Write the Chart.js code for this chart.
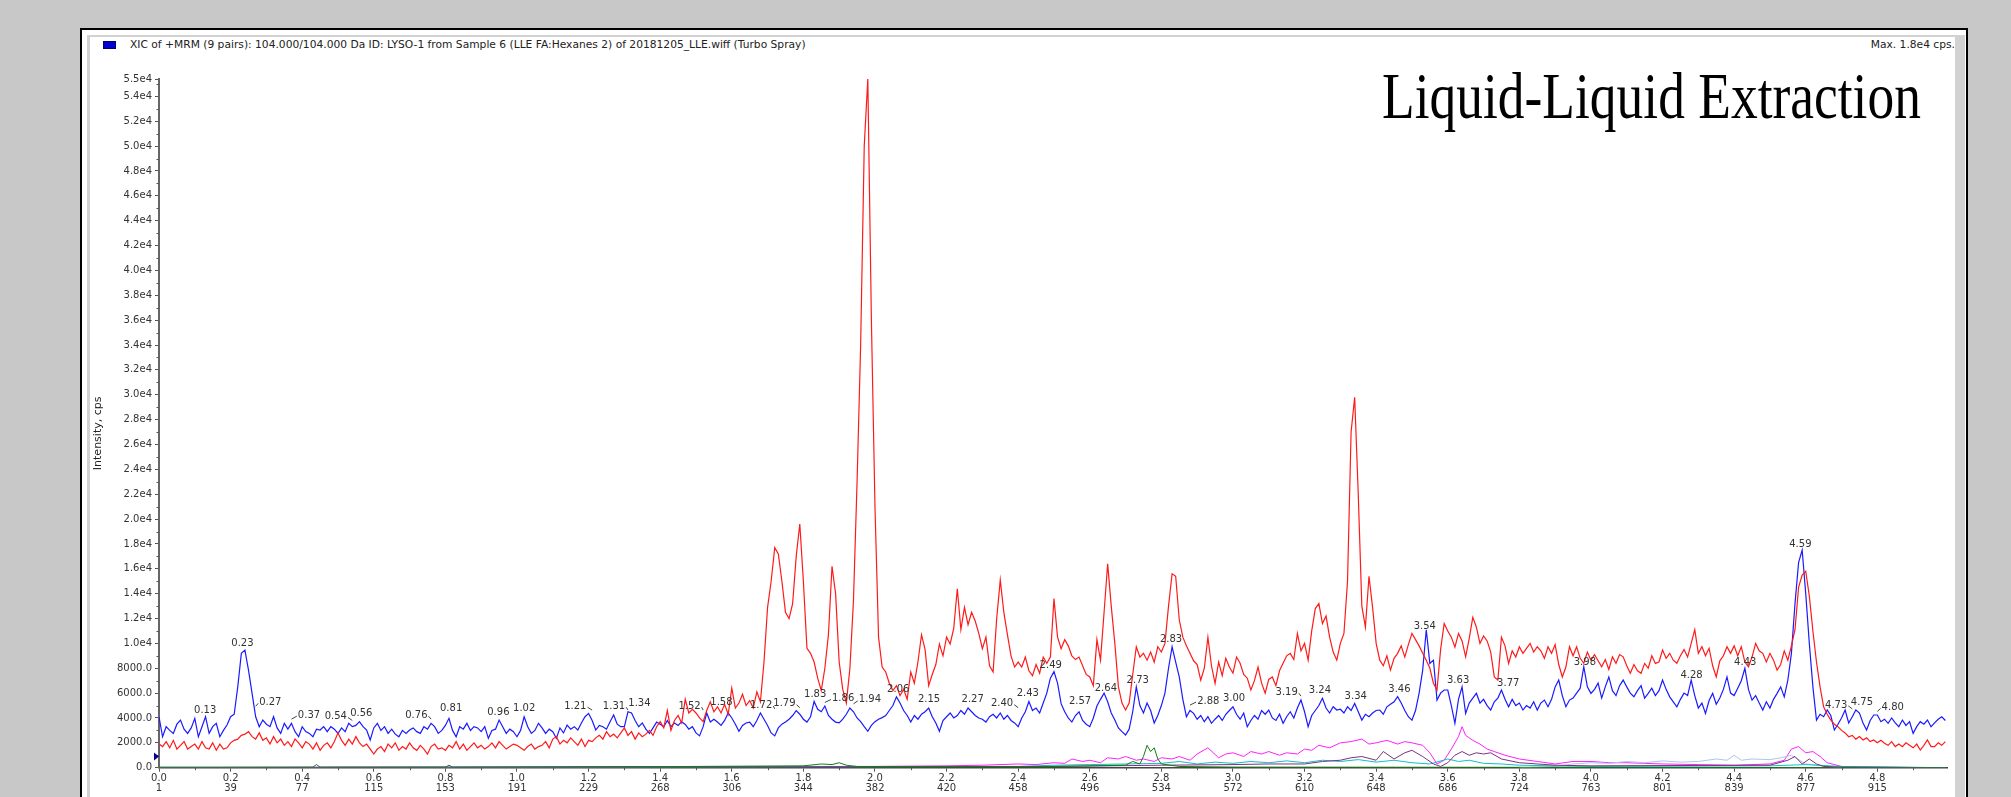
<!DOCTYPE html>
<html>
<head>
<meta charset="utf-8">
<title>XIC LYSO-1 LLE</title>
<script src="https://cdn.jsdelivr.net/npm/chart.js@4.4.1/dist/chart.umd.min.js"></script>
<style>
  html, body { margin: 0; padding: 0; }
  body { width: 2011px; height: 797px; overflow: hidden; position: relative; background: #c8c8c8; }
  #frame { position: absolute; left: 80px; top: 28px; width: 1884px; height: 780px; border: 2px solid #000; background: #fff; }
  #panel { position: absolute; left: 5px; top: 5px; right: 1px; bottom: 0; border-left: 3px solid #d2d2d2; border-top: 2px solid #d2d2d2; border-right: 10px solid #d2d2d2; }
  #chart { position: absolute; left: 90px; top: 37px; }
  .swatch { position: absolute; left: 103px; top: 41px; width: 11px; height: 6px; background: #0000d0; border: 1px solid #000070; }
  .header { position: absolute; top: 39px; font: 10.7px "DejaVu Sans", sans-serif; line-height: 12px; color: #222; white-space: nowrap; }
  #caption { left: 130px; }
  #maxval { right: 56px; }
  #title { position: absolute; left: 1382px; top: 63px; font: 66px "Liberation Serif", "Times New Roman", serif; line-height: 66px; color: #000; white-space: nowrap; transform: scaleX(0.81); transform-origin: left top; }
</style>
</head>
<body>
<div id="frame"><div id="panel"></div></div>
<div class="swatch"></div>
<div class="header" id="caption">XIC of +MRM (9 pairs): 104.000/104.000 Da ID: LYSO-1 from Sample 6 (LLE FA:Hexanes 2) of 20181205_LLE.wiff (Turbo Spray)</div>
<div class="header" id="maxval">Max. 1.8e4 cps.</div>
<canvas id="chart" width="1865" height="760"></canvas>
<div id="title">Liquid-Liquid Extraction</div>
<script>
// time step between stored points (min)
const scanStep = 0.01;

// red trace, one row per 0.1 min
const redValues = [
  1900, 1700, 2100, 1600, 2200, 1500, 1800, 2100, 1500, 1700,
  1900, 1500, 2100, 1600, 1500, 2000, 1400, 1900, 1500, 1600,
  2000, 2200, 2300, 2600, 2700, 2900, 2500, 2300, 2800, 2200,
  2400, 1900, 2500, 2000, 2300, 1800, 2100, 1700, 2300, 2000,
  1600, 2100, 1900, 1500, 2000, 1400, 1800, 2000, 1600, 2100,
  2800, 2200, 1800, 2300, 1900, 2500, 2000, 1700, 1900, 1500,
  1100, 1500, 1700, 1300, 1900, 1600, 2000, 1400, 1700, 1500,
  2000, 1600, 1400, 1800, 1500, 1100, 1700, 1900, 1500, 1600,
  1400, 1800, 1600, 2100, 1500, 1900, 1400, 1700, 2000, 1600,
  1800, 1500, 1700, 2000, 1600, 2100, 1800, 1500, 1700, 1900,
  1800, 1600, 1400, 1700, 1900, 1500, 1700, 1800, 2100, 1600,
  2300, 2500, 1900, 2200, 2000, 2400, 2100, 1800, 2300, 1700,
  2200, 2100, 2400, 2600, 2300, 2900, 2500, 2700, 2400, 2800,
  3200, 2600, 2900, 2300, 2800, 2500, 2700, 3000, 2600, 3300,
  3700, 3200, 4600, 3000, 3800, 4200, 3600, 5500, 4400, 4700,
  4400, 4000, 3700, 4600, 5300, 4500, 4900, 4400, 5100, 4300,
  6400, 4800, 5200, 5900, 5000, 5400, 4800, 6100, 5300, 8500,
  12900, 15000, 17700, 17200, 15000, 12500, 12000, 13200, 17000, 19600,
  15000, 9600, 9200, 8500, 7200, 6200, 8000, 10700, 16200, 14000,
  8500, 6300, 5200, 8000, 13500, 23000, 34000, 50000, 55400, 36000,
  21000, 10500, 8100, 7700, 6800, 6200, 6600, 5800, 6300, 5500,
  7700, 6800, 8500, 10700, 9500, 6600, 7500, 8300, 9950, 9000,
  10500, 9950, 11200, 14400, 11100, 12900, 11500, 12500, 11800, 10800,
  9580, 10500, 8200, 7700, 12000, 15100, 12500, 10700, 9000, 8100,
  8500, 8100, 8900, 7800, 7400, 8300, 7600, 8900, 8400, 8900,
  13600, 10500, 9580, 10300, 9800, 9000, 8700, 8900, 8200, 7500,
  7300, 6600, 10300, 8650, 12500, 16400, 13000, 10000, 6500, 5200,
  4640, 5200, 7500, 9730, 8900, 9200, 8650, 9300, 8500, 9730,
  9300, 10000, 13000, 15600, 15400, 11900, 10500, 9800, 9200, 8600,
  8300, 7050, 8000, 10500, 8200, 6780, 8500, 7400, 8800, 8100,
  7600, 8900, 8400, 7500, 7200, 6250, 7000, 8100, 6800, 6000,
  7100, 7300, 6600, 7800, 8400, 9000, 9200, 8700, 10800, 9400,
  10000, 8650, 11000, 12800, 13200, 11600, 12200, 10500, 9300, 8650,
  10000, 10800, 15000, 27000, 29800, 22000, 13000, 11300, 15400, 12900,
  10000, 8650, 8200, 9000, 7850, 8800, 9200, 9800, 8900, 9900,
  10800, 10300, 9800, 9200, 8650, 8000, 6800, 6250, 9500, 11600,
  11000, 10500, 9700, 10800, 10200, 8920, 10400, 12100, 11300, 10000,
  10600, 10200, 9300, 7300, 7050, 10500, 9800, 8390, 9400, 8900,
  9730, 9200, 9600, 10000, 9300, 9730, 9400, 8800, 9730, 9200,
  9900, 8300, 7300, 8100, 9730, 9000, 9730, 8800, 8400, 9300,
  8650, 9100, 8600, 8120, 8700, 7900, 8920, 8400, 9100, 8920,
  8200, 7600, 8300, 7800, 7600, 8390, 8000, 9000, 8390, 8500,
  9460, 8800, 9200, 8650, 8400, 9000, 9500, 8900, 10000, 11100,
  9200, 9730, 9000, 9600, 8200, 7300, 8600, 9000, 9730, 9200,
  9800, 9000, 9730, 8500, 8120, 8900, 10000, 9400, 9200, 8500,
  9200, 8650, 7850, 8300, 9400, 8650, 9800, 11100, 14500, 15500,
  15800, 13800, 11000, 8500, 6500, 4900, 4300, 3830, 3500, 3300,
  3000, 2800, 2490, 2600, 2300, 2500, 2230, 2400, 2100, 2230,
  2000, 2200, 1960, 1800, 2100, 1700, 1900, 1690, 2000, 1800,
  1600, 1900, 1420, 1800, 2230, 1700, 1690, 2000, 1800, 2100
];

// blue trace (104.000/104.000), one row per 0.1 min
const blueValues = [
  4100, 2490, 3300, 3000, 2760, 3500, 3830, 3100, 2760, 3200,
  3970, 2490, 3300, 4100, 2760, 3300, 3570, 2490, 3000, 3430,
  4100, 4300, 6500, 9200, 9460, 7850, 5980, 4100, 3300, 3830,
  3500, 3300, 4100, 3200, 2760, 3570, 3100, 3570, 2900, 2490,
  3300, 2900, 2760, 2490, 3100, 3030, 3300, 2900, 3300, 3100,
  2760, 3200, 2900, 3570, 3300, 3400, 3700, 3300, 3030, 2230,
  3200, 3570, 3000, 3300, 2760, 3100, 2700, 2490, 3000, 2760,
  3030, 3200, 2900, 2760, 3300, 3100, 3570, 3300, 2760, 3000,
  3400, 3970, 3000, 2490, 3300, 3100, 3570, 3000, 3300, 3200,
  2900, 3300, 2360, 3000, 3100, 3830, 3300, 2760, 3100, 2900,
  2490, 3000, 4100, 3300, 2760, 3000, 3570, 3200, 2760, 3100,
  2900, 2360, 3200, 2800, 3430, 3100, 3300, 3030, 3600, 4100,
  4370, 3800, 3030, 3400, 3300, 3100, 3700, 4240, 3500, 3300,
  3300, 4500, 4400, 3800, 3300, 3600, 3100, 2750, 3200, 3670,
  3500, 3300, 3800, 3300, 3600, 3400, 3700, 3480, 3100, 3300,
  2800, 2560, 3300, 4400, 3670, 3900, 3670, 3400, 3800, 4400,
  4000, 3500, 2930, 3400, 3600, 3670, 3300, 3800, 4400, 3900,
  3400, 2800, 2560, 3200, 3500, 3670, 3900, 4200, 4590, 4300,
  3900, 3670, 4100, 5330, 4700, 4500, 4960, 4200, 3900, 3670,
  3600, 3900, 4300, 4800, 4500, 4000, 3700, 3300, 2930, 3400,
  3700, 3900, 4030, 4200, 4600, 5000, 5700, 5200, 4600, 4200,
  3670, 4200, 3900, 4300, 4500, 4800, 4100, 3600, 2930, 3800,
  4100, 4400, 4000, 4200, 4600, 4300, 4800, 4500, 4200, 4000,
  3900, 3670, 4100, 4300, 4000, 4400, 3900, 4200, 3800, 3600,
  3300, 4000, 4500, 5330, 4600, 4800, 4400, 5200, 6000, 7200,
  7730, 6800, 5150, 4500, 4000, 3670, 4200, 4500, 3800, 3500,
  3300, 4000, 4960, 5500, 6000, 5300, 4400, 3830, 3200, 2900,
  2630, 3100, 4500, 6500, 5000, 4400, 5200, 4600, 3600, 4200,
  5000, 6000, 8000, 9730, 8500, 7300, 5500, 4100, 4600, 4370,
  3900, 4200, 3700, 4100, 3570, 3900, 4200, 3800, 4300, 4600,
  4900, 4300, 3900, 4400, 3300, 3800, 4200, 3900, 4600, 4300,
  4640, 4000, 3800, 4300, 3570, 4100, 4500, 4000, 4800, 5440,
  4500, 3300, 4200, 4600, 5000, 5580, 4800, 4400, 4900, 4640,
  4700, 4400, 4900, 4600, 5170, 4500, 3830, 4300, 4100, 4400,
  4600, 4640, 4300, 4900, 5100, 5300, 5710, 5200, 4600, 4100,
  3830, 4600, 6000, 7850, 11100, 8390, 8650, 5440, 6000, 6250,
  6250, 5000, 3570, 5500, 6500, 4370, 5200, 5600, 5980, 5200,
  5500, 5000, 4640, 5300, 5600, 6250, 5500, 4900, 5500, 5000,
  5200, 4640, 5000, 4800, 5300, 4640, 5200, 5440, 4900, 5500,
  6500, 7050, 5800, 4900, 5440, 5600, 6000, 6400, 8120, 6500,
  5980, 6300, 6800, 5600, 6500, 7300, 6200, 5800, 6600, 7050,
  6500, 6000, 5710, 6200, 6600, 5600, 5980, 6400, 5800, 6200,
  7050, 6300, 5700, 5300, 4900, 5500, 6000, 5800, 7050, 5800,
  4800, 5200, 4370, 5400, 5980, 5100, 5600, 6300, 7300, 6000,
  5800, 6400, 7000, 8000, 6300, 5440, 5800, 5200, 4640, 5300,
  4800, 5500, 5980, 6500, 5700, 7050, 9200, 13200, 16500, 17500,
  14000, 10000, 6500, 3830, 4300, 4100, 4640, 4200, 3030, 3500,
  4000, 4640, 3600, 4100, 4640, 4400, 3600, 3030, 3800, 4240,
  4240, 3700, 3900, 3570, 4000, 3600, 3300, 3830, 3400, 3700,
  2760, 3300, 3700, 3500, 3830, 3300, 3600, 3900, 4100, 3800
];

// minor transitions near the baseline
const magentaTimes = [0, 0.5, 1.0, 1.5, 2.0, 2.2, 2.3, 2.4, 2.45, 2.5, 2.53, 2.55, 2.58, 2.6, 2.63, 2.65, 2.68, 2.7, 2.73, 2.75, 2.78, 2.8, 2.83, 2.85, 2.88, 2.9, 2.93, 2.96, 2.98, 3.0, 3.03, 3.05, 3.08, 3.1, 3.13, 3.15, 3.18, 3.2, 3.22, 3.24, 3.27, 3.3, 3.33, 3.36, 3.38, 3.4, 3.43, 3.46, 3.48, 3.5, 3.53, 3.55, 3.57, 3.59, 3.61, 3.63, 3.64, 3.65, 3.67, 3.69, 3.71, 3.73, 3.76, 3.8, 3.85, 3.9, 3.95, 4.0, 4.05, 4.1, 4.2, 4.3, 4.4, 4.5, 4.54, 4.56, 4.58, 4.6, 4.62, 4.64, 4.66, 4.7, 4.8, 4.99];
const magentaValues = [0, 50, 50, 100, 100, 150, 200, 300, 250, 400, 350, 700, 500, 600, 400, 800, 700, 900, 600, 700, 500, 800, 700, 900, 600, 1100, 1600, 800, 1100, 1200, 900, 1300, 1100, 1300, 1000, 1200, 1100, 1500, 1400, 1800, 1600, 2000, 2100, 2300, 1900, 2000, 2200, 1900, 2100, 2000, 1800, 1200, 300, 600, 1500, 2500, 3300, 2600, 2200, 1900, 1500, 1300, 1000, 700, 500, 300, 500, 500, 400, 400, 300, 250, 200, 300, 600, 1500, 1700, 1200, 1300, 900, 400, 100, 50, 0];

const purpleTimes = [0, 2.5, 2.8, 3.0, 3.1, 3.2, 3.25, 3.3, 3.33, 3.36, 3.4, 3.42, 3.45, 3.48, 3.5, 3.53, 3.56, 3.58, 3.6, 3.62, 3.64, 3.66, 3.68, 3.7, 3.72, 3.75, 3.8, 3.9, 4.0, 4.5, 4.55, 4.57, 4.59, 4.61, 4.63, 4.65, 4.7, 4.99];
const purpleValues = [0, 100, 200, 250, 300, 300, 500, 600, 800, 900, 600, 1300, 700, 1200, 1400, 900, 300, 100, 400, 1000, 1300, 1000, 1200, 1100, 1200, 700, 400, 200, 150, 200, 600, 900, 300, 700, 300, 100, 50, 0];

const cyanTimes = [0, 2.4, 2.5, 2.6, 2.7, 2.8, 2.85, 2.9, 2.95, 3.0, 3.05, 3.1, 3.15, 3.2, 3.25, 3.3, 3.35, 3.4, 3.45, 3.5, 3.55, 3.6, 3.63, 3.66, 3.7, 3.75, 3.8, 3.9, 4.0, 4.5, 4.6, 4.7, 4.99];
const cyanValues = [0, 100, 200, 250, 300, 350, 500, 300, 450, 350, 500, 400, 550, 400, 600, 500, 650, 450, 600, 400, 300, 700, 500, 600, 350, 300, 200, 150, 100, 150, 250, 100, 0];

const greenTimes = [0, 0.43, 0.44, 0.45, 0.8, 0.81, 0.82, 1.5, 1.8, 1.85, 1.88, 1.9, 1.92, 1.95, 2.5, 2.7, 2.72, 2.74, 2.75, 2.76, 2.77, 2.78, 2.79, 2.8, 2.85, 3.0, 4.99];
const greenValues = [50, 50, 250, 50, 50, 200, 50, 100, 150, 300, 250, 400, 200, 100, 100, 200, 500, 300, 900, 1800, 1300, 1600, 700, 300, 100, 50, 0];

const lightBlueTimes = [3.8, 3.9, 3.95, 4.0, 4.05, 4.1, 4.15, 4.2, 4.25, 4.3, 4.35, 4.38, 4.4, 4.42, 4.45, 4.5, 4.53, 4.56, 4.6, 4.65, 4.7];
const lightBlueValues = [0, 100, 300, 400, 350, 500, 400, 550, 450, 500, 700, 600, 1000, 600, 700, 650, 800, 1000, 300, 150, 0];

// peak annotations: peak time, where the text sits (time, intensity)
const peakTimes = [0.13, 0.23, 0.27, 0.37, 0.54, 0.56, 0.76, 0.81, 0.96, 1.02, 1.21, 1.31, 1.34, 1.52, 1.58, 1.72, 1.79, 1.83, 1.86, 1.94, 2.06, 2.15, 2.27, 2.40, 2.43, 2.49, 2.57, 2.64, 2.73, 2.83, 2.88, 3.00, 3.19, 3.24, 3.34, 3.46, 3.54, 3.63, 3.77, 3.98, 4.28, 4.43, 4.59, 4.73, 4.75, 4.80];
const peakLabelTimes = [0.129, 0.233, 0.311, 0.419, 0.494, 0.565, 0.719, 0.816, 0.948, 1.02, 1.163, 1.271, 1.342, 1.482, 1.571, 1.682, 1.747, 1.833, 1.911, 1.986, 2.065, 2.151, 2.273, 2.355, 2.427, 2.491, 2.573, 2.645, 2.734, 2.827, 2.931, 3.003, 3.15, 3.243, 3.343, 3.465, 3.536, 3.629, 3.769, 3.983, 4.281, 4.431, 4.585, 4.685, 4.757, 4.843];
const peakLabelValues = [4640, 10000, 5260, 4230, 4120, 4330, 4230, 4740, 4430, 4740, 4950, 4950, 5150, 4950, 5260, 5050, 5150, 5880, 5570, 5460, 6290, 5460, 5460, 5150, 5980, 8250, 5360, 6390, 7010, 10300, 5360, 5570, 6080, 6190, 5770, 6290, 11400, 7010, 6800, 8450, 7420, 8450, 18000, 5050, 5260, 4850];

// axes
const xTickValues = [0, 0.2, 0.4, 0.6, 0.8, 1.0, 1.2, 1.4, 1.6, 1.8, 2.0, 2.2, 2.4, 2.6, 2.8, 3.0, 3.2, 3.4, 3.6, 3.8, 4.0, 4.2, 4.4, 4.6, 4.8];
const scanLabels = ["1", "39", "77", "115", "153", "191", "229", "268", "306", "344", "382", "420", "458", "496", "534", "572", "610", "648", "686", "724", "763", "801", "839", "877", "915"];
const yTickValues = [0, 2000, 4000, 6000, 8000, 10000, 12000, 14000, 16000, 18000, 20000, 22000, 24000, 26000, 28000, 30000, 32000, 34000, 36000, 38000, 40000, 42000, 44000, 46000, 48000, 50000, 52000, 54000, 55400];
const xMax = 4.996;
const yMax = 55400;
const thresholdValue = 900;

const tickFont = { family: "'DejaVu Sans', sans-serif", size: 10 };

function stepSeries(values) {
  return values.map((v, i) => ({ x: i * scanStep, y: v }));
}
function pairSeries(times, values) {
  return times.map((t, i) => ({ x: t, y: values[i] }));
}
function trace(data, color, width) {
  return { data, borderColor: color, borderWidth: width, pointRadius: 0, tension: 0, fill: false };
}

const decorPlugin = {
  id: "decor",
  afterDraw(chart) {
    const { ctx, scales: { x, y } } = chart;
    ctx.save();
    ctx.strokeStyle = "#555";
    ctx.lineWidth = 1;
    // minor ticks
    for (let v = 1000; v < yMax; v += 2000) {
      const py = Math.round(y.getPixelForValue(v)) + 0.5;
      ctx.beginPath();
      ctx.moveTo(x.left - 2.5, py);
      ctx.lineTo(x.left, py);
      ctx.stroke();
    }
    for (let t = 0.1; t < xMax; t += 0.2) {
      const px = Math.round(x.getPixelForValue(t)) + 0.5;
      ctx.beginPath();
      ctx.moveTo(px, y.bottom);
      ctx.lineTo(px, y.bottom + 2.5);
      ctx.stroke();
    }
    // threshold marker
    const ty = y.getPixelForValue(thresholdValue);
    ctx.fillStyle = "#000090";
    ctx.beginPath();
    ctx.moveTo(x.left - 5, ty - 4);
    ctx.lineTo(x.left, ty);
    ctx.lineTo(x.left - 5, ty + 4);
    ctx.closePath();
    ctx.fill();
    // peak labels
    ctx.font = "10px 'DejaVu Sans', sans-serif";
    ctx.fillStyle = "#333";
    ctx.textAlign = "center";
    ctx.textBaseline = "middle";
    ctx.strokeStyle = "#444";
    peakTimes.forEach((t, i) => {
      const text = t.toFixed(2);
      const lx = x.getPixelForValue(peakLabelTimes[i]);
      const ly = y.getPixelForValue(peakLabelValues[i]);
      const w = ctx.measureText(text).width;
      ctx.fillText(text, lx, ly);
      const px = x.getPixelForValue(t);
      if (px < lx - w / 2) {
        ctx.beginPath();
        ctx.moveTo(px, ly + 4);
        ctx.lineTo(lx - w / 2 - 1, ly + 1);
        ctx.stroke();
      } else if (px > lx + w / 2) {
        ctx.beginPath();
        ctx.moveTo(lx + w / 2 + 1, ly + 1);
        ctx.lineTo(px, ly + 4);
        ctx.stroke();
      }
    });
    // y title
    ctx.translate(8, (y.top + y.bottom) / 2 + 10);
    ctx.rotate(-Math.PI / 2);
    ctx.font = "11px 'DejaVu Sans', sans-serif";
    ctx.fillStyle = "#222";
    ctx.fillText("Intensity, cps", 0, 0);
    ctx.restore();
  }
};

new Chart(document.getElementById("chart"), {
  type: "line",
  data: {
    datasets: [
      trace(stepSeries(redValues), "#ff1a1a", 1.2),
      trace(stepSeries(blueValues), "#1a1aff", 1.2),
      trace(pairSeries(greenTimes, greenValues), "#108010", 1),
      trace(pairSeries(purpleTimes, purpleValues), "#803080", 1),
      trace(pairSeries(cyanTimes, cyanValues), "#10c0c8", 1),
      trace(pairSeries(lightBlueTimes, lightBlueValues), "#a8c8ec", 1),
      trace(pairSeries(magentaTimes, magentaValues), "#ff20ff", 1)
    ]
  },
  options: {
    responsive: false,
    animation: false,
    events: [],
    devicePixelRatio: 1,
    layout: { padding: { top: 42, right: 7.5, bottom: 0, left: 0 } },
    plugins: { legend: { display: false }, tooltip: { enabled: false } },
    scales: {
      x: {
        type: "linear",
        min: 0,
        max: xMax,
        afterBuildTicks: (s) => { s.ticks = xTickValues.map((v) => ({ value: v })); },
        afterFit: (s) => { s.height = 29.3; },
        ticks: {
          autoSkip: false,
          maxRotation: 0,
          padding: 1,
          color: "#333",
          font: { ...tickFont, lineHeight: 1.05 },
          callback: (v, i) => [Number(v).toFixed(1), scanLabels[i]]
        },
        grid: { drawOnChartArea: false, tickLength: 4, tickColor: "#555" },
        border: { color: "#444", width: 1.5 }
      },
      y: {
        min: 0,
        max: yMax,
        afterBuildTicks: (s) => { s.ticks = yTickValues.map((v) => ({ value: v })); },
        afterFit: (s) => { s.width = 69; },
        ticks: {
          autoSkip: false,
          padding: 3,
          color: "#333",
          font: tickFont,
          callback: (v) => (v >= 10000 ? (v / 10000).toFixed(1) + "e4" : Number(v).toFixed(1))
        },
        grid: { drawOnChartArea: false, tickLength: 4, tickColor: "#555" },
        border: { color: "#666", width: 2 }
      }
    }
  },
  plugins: [decorPlugin]
});
</script>
</body>
</html>
